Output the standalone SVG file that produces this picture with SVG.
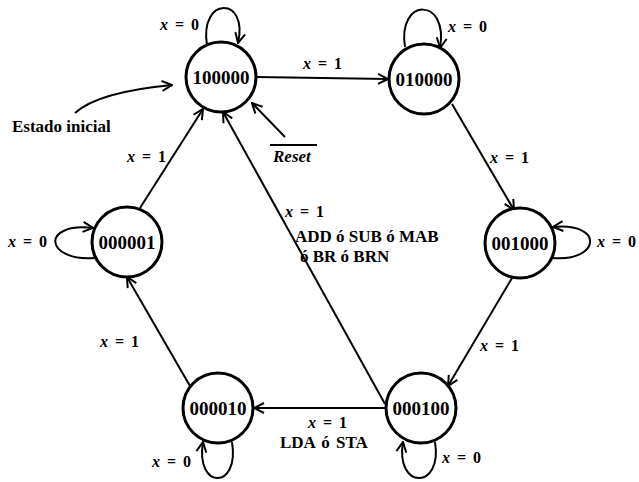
<svg xmlns="http://www.w3.org/2000/svg" width="639" height="482" viewBox="0 0 639 482">
  <style>
    .state { fill: #fff; stroke: #000; stroke-width: 3; }
    .code { font-family: "Liberation Serif", "Times New Roman", serif; font-size: 19px; font-weight: bold; fill: #000; text-anchor: middle; }
    .lbl { font-family: "Liberation Serif", "Times New Roman", serif; font-size: 16px; font-weight: bold; fill: #000; word-spacing: 3px; }
    .big { font-family: "Liberation Serif", "Times New Roman", serif; font-size: 17px; font-weight: bold; fill: #000; }
    .v { font-style: italic; }
    .edge { fill: none; stroke: #000; stroke-width: 2; marker-end: url(#arrow); }
  </style>
  <defs>
    <marker id="arrow" viewBox="0 0 12 12" refX="11" refY="6" markerWidth="12" markerHeight="12" markerUnits="userSpaceOnUse" orient="auto">
      <path d="M1,1 L11,6 L1,11" fill="none" stroke="#000" stroke-width="2"/>
    </marker>
  </defs>
  <rect width="639" height="482" fill="#fff"/>

  <!-- transitions -->
  <g id="connectors">
    <!-- self loops -->
    <path class="edge" d="M207,45 C199,-4 249,-4 238,43"/>
    <path class="edge" d="M405,47 C397,-3 449,-3 440,48"/>
    <path class="edge" d="M95,258 C45,262 40,222 93,228"/>
    <path class="edge" d="M553,258 C600,262 605,222 553,227"/>
    <path class="edge" d="M232,442 C240,490 195,490 203,442"/>
    <path class="edge" d="M435,442 C443,490 395,490 403,442"/>
    <!-- ring transitions -->
    <line class="edge" x1="256" y1="77" x2="388" y2="79"/>
    <line class="edge" x1="452" y1="104" x2="514" y2="210"/>
    <line class="edge" x1="512" y1="278" x2="448" y2="386"/>
    <line class="edge" x1="385" y1="408" x2="254" y2="408"/>
    <line class="edge" x1="190" y1="386" x2="127" y2="277"/>
    <line class="edge" x1="140" y1="208" x2="203" y2="109"/>
    <line class="edge" x1="385" y1="404" x2="223" y2="112"/>
    <!-- reset and initial-state pointers -->
    <line class="edge" x1="285" y1="137" x2="252" y2="103"/>
    <path class="edge" d="M75,113 Q98,92 172,85"/>
  </g>

  <!-- states -->
  <g id="s100000"><circle class="state" cx="221" cy="77" r="35"/><text class="code" x="221" y="84">100000</text></g>
  <g id="s010000"><circle class="state" cx="424" cy="79" r="35"/><text class="code" x="424" y="86">010000</text></g>
  <g id="s001000"><circle class="state" cx="520" cy="243" r="35"/><text class="code" x="520" y="250">001000</text></g>
  <g id="s000100"><circle class="state" cx="421" cy="408" r="35"/><text class="code" x="421" y="415">000100</text></g>
  <g id="s000010"><circle class="state" cx="218" cy="408" r="35"/><text class="code" x="218" y="415">000010</text></g>
  <g id="s000001"><circle class="state" cx="127" cy="242" r="35"/><text class="code" x="127" y="249">000001</text></g>

  <!-- transition labels -->
  <g id="labels">
    <text class="lbl" x="160" y="30"><tspan class="v">x</tspan> = 0</text>
    <text class="lbl" x="448" y="32"><tspan class="v">x</tspan> = 0</text>
    <text class="lbl" x="8" y="247"><tspan class="v">x</tspan> = 0</text>
    <text class="lbl" x="597" y="247"><tspan class="v">x</tspan> = 0</text>
    <text class="lbl" x="152" y="467"><tspan class="v">x</tspan> = 0</text>
    <text class="lbl" x="442" y="463"><tspan class="v">x</tspan> = 0</text>

    <text class="lbl" x="303" y="69"><tspan class="v">x</tspan> = 1</text>
    <text class="lbl" x="490" y="163"><tspan class="v">x</tspan> = 1</text>
    <text class="lbl" x="480" y="351"><tspan class="v">x</tspan> = 1</text>
    <text class="lbl" x="308" y="428"><tspan class="v">x</tspan> = 1</text>
    <text class="lbl" x="100" y="347"><tspan class="v">x</tspan> = 1</text>
    <text class="lbl" x="127" y="162"><tspan class="v">x</tspan> = 1</text>
    <text class="lbl" x="285" y="217"><tspan class="v">x</tspan> = 1</text>

    <text class="big" x="295" y="242">ADD ó SUB ó MAB</text>
    <text class="big" x="300" y="262">ó BR ó BRN</text>
    <text class="big" x="280" y="448" font-size="18" word-spacing="2">LDA ó STA</text>

    <text class="big" x="12" y="132" font-size="18">Estado inicial</text>
    <text class="big" x="273" y="162" font-size="18" font-style="italic">Reset</text>
    <line x1="270" y1="145" x2="317" y2="145" stroke="#000" stroke-width="2"/>
  </g>
</svg>
